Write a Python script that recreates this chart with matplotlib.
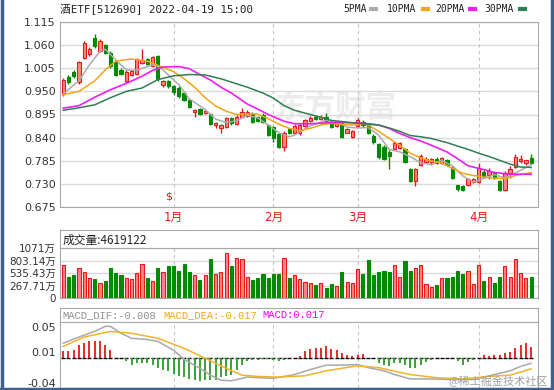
import matplotlib
matplotlib.use('Agg')
import matplotlib.pyplot as plt
from matplotlib.lines import Line2D
import numpy as np

plt.rcParams['font.family'] = ['DejaVu Sans', 'Noto Sans CJK SC']

# 日K数据 (2021-12 ~ 2022-04-19)
opens = [.943, .984, .997, .972, 1.030, 1.038, 1.078, 1.046, 1.060, 1.042,
         1.020, 1.000, .974, .990, .992, 1.018, 1.026, 1.010, 1.033, .965,
         .975, .962, .958, .945, .930, .900, .908, .899, .897, .870,
         .864, .866, .887, .873, .890, .892, .897, .888, .895, .870,
         .865, .848, .818, .860, .852, .850, .867, .880, .890, .884,
         .890, .880, .868, .874, .852, .842, .867, .878, .870, .845,
         .826, .818, .805, .813, .815, .812, .765, .738, .775, .783,
         .782, .790, .780, .786, .770, .727, .726, .727, .735, .735,
         .758, .752, .755, .738, .716, .755, .770, .785, .780, .792]
highs = [.982, .988, 1.000, 1.023, 1.070, 1.055, 1.086, 1.074, 1.063, 1.046,
         1.024, 1.006, 1.000, 1.002, 1.030, 1.050, 1.030, 1.034, 1.036, .978,
         .978, .966, .962, .950, .933, .907, .910, .905, .899, .877,
         .872, .890, .889, .893, .911, .906, .900, .892, .898, .872,
         .868, .852, .855, .863, .872, .874, .885, .891, .893, .893,
         .899, .882, .878, .877, .862, .857, .886, .882, .873, .848,
         .828, .822, .810, .832, .830, .815, .768, .767, .800, .795,
         .792, .793, .795, .789, .772, .728, .727, .745, .745, .780,
         .762, .768, .758, .740, .760, .772, .800, .798, .787, .800]
lows = [.940, .968, .982, .968, 1.027, 1.034, 1.053, 1.043, 1.038, 1.005,
        .986, .988, .970, .987, .990, 1.015, 1.012, 1.008, .975, .960,
        .958, .942, .935, .928, .910, .888, .894, .897, .870, .864,
        .852, .862, .870, .870, .888, .889, .875, .877, .874, .843,
        .830, .815, .808, .848, .850, .847, .865, .878, .882, .882,
        .878, .862, .865, .838, .850, .840, .865, .866, .848, .826,
        .790, .786, .765, .810, .812, .780, .735, .724, .772, .780,
        .775, .778, .778, .772, .742, .712, .713, .725, .733, .732,
        .745, .742, .742, .714, .714, .745, .768, .780, .775, .778]
closes = [.977, .973, .986, 1.020, 1.066, 1.050, 1.057, 1.070, 1.042, 1.010,
          .990, .992, .995, .998, 1.027, 1.024, 1.016, 1.031, .980, .975,
          .962, .948, .938, .930, .914, .906, .897, .903, .872, .875,
          .870, .886, .874, .890, .901, .900, .878, .880, .877, .846,
          .840, .818, .852, .852, .868, .869, .882, .886, .884, .890,
          .880, .866, .875, .842, .860, .855, .883, .870, .852, .830,
          .793, .790, .797, .828, .828, .783, .738, .765, .797, .790,
          .788, .780, .792, .775, .745, .718, .716, .742, .742, .768,
          .748, .760, .745, .716, .757, .765, .795, .790, .786, .780]

# 成交量 (万)
volumes = [716, 460, 482, 643, 548, 439, 409, 314, 365, 643,
           534, 482, 424, 402, 534, 731, 424, 373, 643, 556,
           694, 680, 570, 731, 548, 482, 387, 482, 841, 512,
           548, 972, 694, 863, 826, 446, 387, 439, 512, 424,
           512, 512, 863, 424, 497, 409, 351, 329, 278, 314,
           205, 292, 256, 556, 351, 314, 629, 512, 811, 482,
           556, 585, 556, 702, 460, 790, 570, 643, 716, 292,
           227, 278, 439, 424, 460, 570, 512, 570, 292, 702,
           365, 460, 314, 460, 680, 446, 841, 534, 424, 460]

# 均线 (读图取点)
ma5_idx = [0, 3, 5, 7, 8, 10, 12, 14, 16, 17, 18, 19, 20, 21, 22, 24, 27, 29, 31, 33,
           35, 37, 39, 41, 43, 44, 47, 50, 52, 54, 56, 58, 60, 62, 64, 66, 68, 70, 72,
           74, 76, 78, 80, 82, 84, 86, 89]
ma5 = [.944, .975, 1.013, 1.045, 1.050, 1.025, 1.001, 1.000, 1.009, 1.013, 1.009, 1.001,
       .989, .977, .966, .932, .907, .884, .876, .880, .893, .887, .870, .852, .842, .846,
       .868, .881, .878, .865, .863, .864, .846, .812, .806, .795, .780, .776, .786, .773,
       .749, .734, .743, .752, .744, .756, .775]
ma10_idx = [0, 3, 6, 8, 10, 13, 16, 18, 21, 23, 25, 27, 29, 31, 33, 35, 37, 39, 41, 43,
            45, 47, 49, 51, 53, 55, 57, 58, 60, 62, 64, 66, 68, 70, 72, 74, 76, 78, 80,
            82, 84, 86, 89]
ma10 = [.942, .950, .975, 1.001, 1.022, 1.027, 1.022, 1.012, .997, .980, .960, .935, .915,
        .903, .895, .897, .896, .885, .872, .862, .857, .862, .870, .874, .872, .870, .872,
        .870, .855, .838, .822, .803, .792, .784, .780, .767, .755, .750, .746, .744, .742,
        .750, .757]
ma20_idx = [0, 3, 6, 9, 12, 15, 17, 19, 22, 24, 26, 28, 30, 32, 35, 37, 39, 42, 44, 47,
            50, 53, 56, 58, 60, 62, 64, 66, 68, 70, 73, 75, 77, 80, 82, 85, 89]
ma20 = [.910, .916, .936, .954, .969, .986, 1.000, 1.008, 1.009, 1.004, .990, .977, .960,
        .946, .920, .908, .895, .879, .873, .873, .875, .876, .875, .873, .870, .862, .850,
        .840, .832, .822, .806, .790, .773, .764, .757, .753, .753]
ma30_idx = [0, 3, 6, 9, 12, 15, 18, 21, 24, 27, 30, 32, 35, 38, 40, 42, 44, 47, 51, 56,
            60, 62, 64, 66, 68, 70, 73, 75, 77, 79, 81, 83, 85, 87, 89]
ma30 = [.905, .911, .918, .935, .950, .958, .978, .987, .990, .989, .980, .972, .960, .946,
        .934, .916, .905, .895, .881, .874, .870, .863, .855, .845, .842, .838, .828, .820,
        .812, .803, .795, .786, .777, .770, .769]

# MACD
dif_idx = [0, 3, 6, 8, 9, 11, 13, 16, 18, 21, 23, 26, 28, 30, 32, 35, 37, 40, 42, 44,
           47, 50, 53, 56, 58, 61, 63, 66, 70, 74, 78, 81, 85, 87, 89]
dif = [.024, .034, .043, .051, .051, .040, .032, .030, .027, .013, -.002, -.016, -.027,
       -.035, -.036, -.030, -.031, -.032, -.029, -.026, -.018, -.011, -.011, -.010, -.015,
       -.020, -.026, -.033, -.033, -.034, -.034, -.028, -.020, -.013, -.008]
dea_idx = [0, 4, 9, 13, 18, 23, 27, 31, 34, 37, 41, 46, 50, 56, 60, 66, 71, 76, 81, 85, 89]
dea = [.019, .034, .043, .040, .032, .016, .000, -.016, -.027, -.029, -.030, -.028, -.020,
       -.012, -.015, -.026, -.031, -.033, -.029, -.027, -.017]
macd_hist = [.011, .012, .014, .021, .025, .027, .028, .027, .021, .014,
             0, 0, -.005, -.011, -.008, -.007, -.008, -.011, -.016, -.019,
             -.021, -.025, -.028, -.030, -.033, -.035, -.036, -.035, -.034, -.034,
             -.030, -.028, -.027, -.019, -.011, -.005, -.003, -.002, -.001, -.001,
             -.002, -.004, -.002, 0, 0, .004, .011, .015, .017, .017,
             .019, .015, .013, .009, .005, .003, .006, .007, 0, 0,
             -.007, -.010, -.012, -.007, -.007, -.010, -.015, -.015, -.010, -.006,
             -.003, 0, 0, 0, 0, -.004, -.010, -.006, -.003, 0,
             .005, .004, .005, .006, .009, .010, .017, .022, .024, .018]

month_idx = [21, 40, 56, 79]
month_labels = ['1月', '2月', '3月', '4月']
price_ticks = [0.675, 0.730, 0.785, 0.840, 0.895, 0.950, 1.005, 1.060, 1.115]
vol_ticks = [0, 267.71, 535.43, 803.14, 1071]
vol_labels = ['0', '267.71万', '535.43万', '803.14万', '1071万']
macd_ticks = [-0.04, 0.01, 0.05]

RED = '#e41a1a'
PINK = '#ff8585'
GREEN = '#008a00'
GRID = '#dadada'
SPINE = '#a8a8a8'

W, H = 554, 390
fig = plt.figure(figsize=(W / 100, H / 100), dpi=100)


def box(x0, y0, x1, y1):
    # 像素坐标(左上原点) -> figure 坐标
    return [x0 / W, 1 - y1 / H, (x1 - x0) / W, (y1 - y0) / H]


def style(a):
    for s in a.spines.values():
        s.set_color(SPINE)
    a.tick_params(length=0, colors='#333333', labelsize=8, pad=3)


n = len(closes)
idx = np.arange(n)
o = np.array(opens)
c = np.array(closes)
up = c >= o
XL = (-0.6, n + 0.3)

# ---------- K线 ----------
ax = fig.add_axes(box(60, 22, 538, 207))
style(ax)
ax.set_xlim(*XL)
ax.set_ylim(0.675, 1.115)
ax.set_yticks(price_ticks)
ax.set_yticklabels(['%.3f' % t for t in price_ticks])
ax.yaxis.grid(True, color=GRID, lw=1)
ax.set_axisbelow(True)
for m in month_idx:
    ax.axvline(m, color='#c4c4c4', lw=0.8, ls=(0, (3, 3)), zorder=1)
ax.set_xticks(month_idx)
ax.set_xticklabels(month_labels, color=RED, fontsize=8.5)

ax.text(0.575, 0.54, '东方财富', transform=ax.transAxes, fontsize=22, color='#ececec',
        ha='center', va='center', family='Noto Sans CJK SC', fontweight='bold', zorder=0)

colors = [RED if u else GREEN for u in up]
ax.vlines(idx, lows, highs, colors=colors, lw=1, zorder=3)
body = np.maximum(np.abs(c - o), 0.0015)
ax.bar(idx, body, bottom=np.minimum(o, c), width=0.62,
       color=[PINK if u else GREEN for u in up], edgecolor=colors, lw=0.8, zorder=4)

ax.plot(ma5_idx, ma5, color='#ababab', lw=1.1, zorder=5)
ax.plot(ma10_idx, ma10, color='#f2a516', lw=1.1, zorder=5)
ax.plot(ma20_idx, ma20, color='#f01cf0', lw=1.2, zorder=5)
ax.plot(ma30_idx, ma30, color='#2f7f55', lw=1.1, zorder=5)

ax.text(20, 0.701, r'\$', color=RED, fontsize=8, ha='center', va='center')

# 标题和图例
mono = ['DejaVu Sans Mono', 'Noto Sans CJK SC']
fig.text(60 / W, 1 - 9 / H, '酒ETF[512690] 2022-04-19 15:00', family=mono,
         fontsize=7.8, color='#222222', va='center')
leg = [('5PMA', 343, 371, '#ababab'), ('10PMA', 387, 423, '#f2a516'),
       ('20PMA', 435, 470, '#f01cf0'), ('30PMA', 484, 520, '#2f7f55')]
for name, tx, lx, col in leg:
    fig.text(tx / W, 1 - 9 / H, name, family=mono, fontsize=7, color='#222222', va='center')
    fig.add_artist(Line2D([lx / W, (lx + 5) / W], [1 - 9 / H, 1 - 9 / H],
                          color=col, lw=3, transform=fig.transFigure))

# ---------- 成交量 ----------
hv = fig.add_axes(box(60, 230, 538, 248))
style(hv)
hv.set_xticks([])
hv.set_yticks([])
hv.text(0.005, 0.45, '成交量:4619122', transform=hv.transAxes, va='center',
        family=['Noto Sans CJK SC'], fontsize=8.5, color='#222222')

vx = fig.add_axes(box(60, 248, 538, 298))
style(vx)
vx.set_xlim(*XL)
vx.set_ylim(0, 1071)
vx.set_xticks([])
vx.set_yticks(vol_ticks)
vx.set_yticklabels(vol_labels, fontsize=7.5)
vx.yaxis.grid(True, color=GRID, lw=1)
vx.set_axisbelow(True)
for m in month_idx:
    vx.axvline(m, color='#c4c4c4', lw=0.8, ls=(0, (3, 3)), zorder=1)
vx.bar(idx, volumes, width=0.6, color=[PINK if u else GREEN for u in up],
       edgecolor=colors, lw=0.8, zorder=3)

# ---------- MACD ----------
hm = fig.add_axes(box(60, 308, 538, 322))
style(hm)
hm.set_xticks([])
hm.set_yticks([])
for txt, tx, col in [('MACD_DIF:-0.008', 62, '#909090'),
                     ('MACD_DEA:-0.017', 163, '#f2a516'),
                     ('MACD:0.017', 262, '#ee00ee')]:
    fig.text(tx / W, 1 - 315 / H, txt, family='Liberation Mono', fontsize=7.6,
             color=col, va='center')

mx = fig.add_axes(box(60, 322, 538, 388))
style(mx)
mx.set_xlim(*XL)
mx.set_ylim(-0.0475, 0.058)
mx.set_xticks([])
mx.set_yticks(macd_ticks)
mx.set_yticklabels(['%.2f' % t for t in macd_ticks])
for m in month_idx:
    mx.axvline(m, color='#c4c4c4', lw=0.8, ls=(0, (3, 3)), zorder=1)
hist = np.array(macd_hist)
mx.plot(idx, np.zeros(n), ls='none', marker='_', ms=3, mew=1, color='black', zorder=2)
mx.vlines(idx, 0, hist, colors=[RED if h > 0 else '#2a9a2a' for h in hist], lw=1.3, zorder=3)
mx.plot(dif_idx, dif, color='#a8a8a8', lw=1.1, zorder=4)
mx.plot(dea_idx, dea, color='#f2b32a', lw=1.1, zorder=4)

fig.text(548 / W, 1 - 381 / H, '@稀土掘金技术社区', family=['Noto Sans CJK SC'],
         fontsize=8, color='#a0a0a0', ha='right', va='center')

# 外框
for xs, ys in [([1.5 / W, 1.5 / W], [0, 1]), ([1 - 2 / W, 1 - 2 / W], [0, 1]),
               ([0, 1], [1.5 / H, 1.5 / H])]:
    fig.add_artist(Line2D(xs, ys, color='#3f5f8f', lw=2.5, transform=fig.transFigure))

fig.savefig('out.png', dpi=100, facecolor='white')
